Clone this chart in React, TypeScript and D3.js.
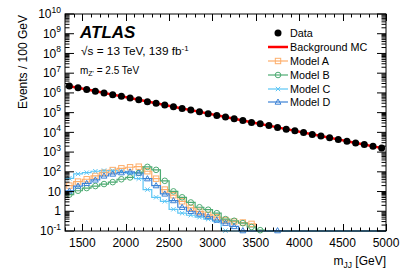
import { useEffect, useRef } from "react";
import * as d3 from "d3";

// bin centres (100 GeV bins, 1300-5000 GeV)
const massBins = [
  1350, 1450, 1550, 1650, 1750, 1850, 1950, 2050, 2150, 2250, 2350, 2450, 2550,
  2650, 2750, 2850, 2950, 3050, 3150, 3250, 3350, 3450, 3550, 3650, 3750, 3850,
  3950, 4050, 4150, 4250, 4350, 4450, 4550, 4650, 4750, 4850, 4950,
];

const dataEvents = [
  2.24e6, 1.82e6, 1.51e6, 1.23e6, 1.0e6, 8.1e5, 6.8e5, 5.5e5, 4.5e5, 3.6e5, 3.0e5,
  2.45e5, 2.0e5, 1.62e5, 1.35e5, 1.1e5, 8.9e4, 7.2e4, 6.0e4, 4.9e4, 4.0e4, 3.2e4,
  2.7e4, 2.2e4, 1.78e4, 1.45e4, 1.2e4, 9.8e3, 7.9e3, 6.5e3, 5.4e3, 4.4e3, 3.5e3,
  2.9e3, 2.4e3, 1.95e3, 1.6e3,
];

const backgroundMC = [
  2.2e6, 1.83e6, 1.5e6, 1.24e6, 1.0e6, 8.2e5, 6.75e5, 5.5e5, 4.5e5, 3.65e5, 3.0e5,
  2.45e5, 2.0e5, 1.63e5, 1.34e5, 1.1e5, 8.9e4, 7.3e4, 6.0e4, 4.9e4, 4.0e4, 3.25e4,
  2.68e4, 2.2e4, 1.79e4, 1.46e4, 1.2e4, 9.7e3, 7.95e3, 6.5e3, 5.35e3, 4.4e3, 3.55e3,
  2.9e3, 2.4e3, 1.95e3, 1.6e3,
];

const modelA = [
  20, 32, 42, 62, 91, 123, 151, 170, 182, 107, 45, 12.6, 6.5, 3.2, 1.5, 0.95, 0.65,
  0.5, 0.36, 0.3, 0.27, 0.23, 0.05, 0, 0, 0, 0, 0, 0, 0, 0, 0, 0, 0, 0, 0, 0,
];
const modelB = [
  7, 11, 15, 19, 24, 30, 42, 52, 88, 178, 126, 35, 10.2, 5.1, 2.8, 1.6, 1.2, 0.8,
  0.4, 0.33, 0.25, 0.16, 0.11, 0, 0, 0, 0, 0, 0, 0, 0, 0, 0, 0, 0, 0, 0,
];
const modelC = [
  47, 78, 91, 107, 115, 115, 107, 89, 45, 12.6, 5.1, 3.2, 1.26, 0.8, 0.63, 0.5, 0.4,
  0.32, 0.105, 0, 0, 0, 0, 0, 0, 0, 0, 0, 0, 0, 0, 0, 0, 0, 0, 0, 0,
];
const modelD = [
  10.7, 19, 26, 39, 62, 78, 91, 100, 87, 45, 20, 7.6, 3.5, 1.6, 1.0, 0.74, 0.54,
  0.36, 0.25, 0.17, 0.105, 0, 0, 0, 0.105, 0, 0, 0, 0, 0, 0, 0, 0, 0, 0, 0, 0,
];

const xTickLabels = [1500, 2000, 2500, 3000, 3500, 4000, 4500, 5000];
const yDecades = [-1, 0, 1, 2, 3, 4, 5, 6, 7, 8, 9, 10];

const models = [
  { name: "Model A", values: modelA, color: "#fdae6b", marker: "square" },
  { name: "Model B", values: modelB, color: "#4dab72", marker: "circle" },
  { name: "Model C", values: modelC, color: "#5cc6f5", marker: "cross" },
  { name: "Model D", values: modelD, color: "#3b82d6", marker: "triangle" },
];

const FONT = "'Liberation Sans', Arial, Helvetica, sans-serif";

export default function App() {
  const ref = useRef<SVGSVGElement>(null);

  useEffect(() => {
    if (!ref.current) return;
    const svg = d3.select(ref.current);
    svg.selectAll("*").remove();

    const left = 65, right = 386, top = 14, bottom = 231;
    const x = d3.scaleLinear().domain([1300, 5000]).range([left, right]);
    const y = d3.scaleLog().domain([0.1, 1e10]).range([bottom, top]);
    const yc = (v: number) => y(Math.max(v, 0.1));

    const g = svg.append("g");

    // signal histograms (step lines)
    models.forEach((m) => {
      const pts: [number, number][] = [];
      m.values.forEach((v, i) => {
        pts.push([massBins[i] - 50, v]);
        pts.push([massBins[i] + 50, v]);
      });
      const line = d3
        .line<[number, number]>()
        .x((d) => x(d[0]))
        .y((d) => yc(d[1]));
      g.append("path")
        .attr("d", line(pts))
        .attr("fill", "none")
        .attr("stroke", m.color)
        .attr("stroke-width", 1.2);
    });

    const drawMarker = (sel: any, kind: string, cx: number, cy: number, color: string) => {
      if (kind === "square") {
        sel.append("rect")
          .attr("x", cx - 2.7).attr("y", cy - 2.7)
          .attr("width", 5.4).attr("height", 5.4)
          .attr("fill", "none").attr("stroke", color).attr("stroke-width", 1);
      } else if (kind === "circle") {
        sel.append("circle")
          .attr("cx", cx).attr("cy", cy).attr("r", 2.8)
          .attr("fill", "none").attr("stroke", color).attr("stroke-width", 1);
      } else if (kind === "cross") {
        sel.append("path")
          .attr("d", `M${cx - 2.2},${cy - 2.2}L${cx + 2.2},${cy + 2.2}M${cx - 2.2},${cy + 2.2}L${cx + 2.2},${cy - 2.2}`)
          .attr("stroke", color).attr("stroke-width", 1);
      } else if (kind === "triangle") {
        sel.append("path")
          .attr("d", `M${cx},${cy - 3}L${cx + 2.9},${cy + 2.2}L${cx - 2.9},${cy + 2.2}Z`)
          .attr("fill", "none").attr("stroke", color).attr("stroke-width", 1);
      }
    };

    models.forEach((m) => {
      m.values.forEach((v, i) => {
        if (v > 0.1) drawMarker(g, m.marker, x(massBins[i]), y(v), m.color);
      });
    });

    // background MC
    const bgLine = d3
      .line<number>()
      .x((_, i) => x(massBins[i]))
      .y((d) => y(d));
    g.append("path")
      .attr("d", bgLine(backgroundMC))
      .attr("fill", "none")
      .attr("stroke", "#ff0000")
      .attr("stroke-width", 2.5);

    // data
    g.selectAll("circle.data")
      .data(dataEvents)
      .enter()
      .append("circle")
      .attr("class", "data")
      .attr("cx", (_, i) => x(massBins[i]))
      .attr("cy", (d) => y(d))
      .attr("r", 3.5)
      .attr("fill", "#000");

    // frame
    svg.append("rect")
      .attr("x", left).attr("y", top)
      .attr("width", right - left).attr("height", bottom - top)
      .attr("fill", "none").attr("stroke", "#000").attr("stroke-width", 1);

    // x ticks (inside, bottom + top)
    const ax = svg.append("g").attr("stroke", "#000").attr("stroke-width", 1);
    d3.range(1300, 5001, 100).forEach((t) => {
      const major = t % 500 === 0;
      const len = major ? 7 : 3.5;
      const px = Math.round(x(t)) + 0.5;
      ax.append("line").attr("x1", px).attr("x2", px).attr("y1", bottom).attr("y2", bottom - len);
      ax.append("line").attr("x1", px).attr("x2", px).attr("y1", top).attr("y2", top + len);
    });
    // y ticks (inside, left + right)
    yDecades.forEach((k) => {
      const base = Math.pow(10, k);
      const py = y(base);
      ax.append("line").attr("x1", left).attr("x2", left + 9).attr("y1", py).attr("y2", py);
      ax.append("line").attr("x1", right).attr("x2", right - 9).attr("y1", py).attr("y2", py);
      if (k < 10) {
        for (let m = 2; m <= 9; m++) {
          const pm = y(m * base);
          ax.append("line").attr("x1", left).attr("x2", left + 4.5).attr("y1", pm).attr("y2", pm);
          ax.append("line").attr("x1", right).attr("x2", right - 4.5).attr("y1", pm).attr("y2", pm);
        }
      }
    });

    const txt = svg.append("g").attr("font-family", FONT).attr("fill", "#000");

    // x tick labels
    xTickLabels.forEach((t) => {
      txt.append("text")
        .attr("x", x(t)).attr("y", 247)
        .attr("text-anchor", "middle")
        .attr("font-size", 12)
        .text(String(t));
    });

    // y tick labels
    yDecades.forEach((k) => {
      const t = txt.append("text")
        .attr("x", 61).attr("y", y(Math.pow(10, k)) + 4.2)
        .attr("text-anchor", "end")
        .attr("font-size", 12);
      if (k === 0) t.text("1");
      else if (k === 1) t.text("10");
      else {
        t.append("tspan").text("10");
        t.append("tspan").attr("dy", -5.5).attr("font-size", 8.5).text(String(k));
      }
    });

    // axis titles
    const xt = txt.append("text")
      .attr("x", right).attr("y", 265)
      .attr("text-anchor", "end")
      .attr("font-size", 12);
    xt.append("tspan").text("m");
    xt.append("tspan").attr("dy", 3).attr("font-size", 8.5).text("JJ");
    xt.append("tspan").attr("dy", -3).text(" [GeV]");

    txt.append("text")
      .attr("transform", `translate(27,${top + 1}) rotate(-90)`)
      .attr("text-anchor", "end")
      .attr("font-size", 12)
      .text("Events / 100 GeV");

    // ATLAS label
    txt.append("text")
      .attr("x", 80).attr("y", 38)
      .attr("font-size", 17)
      .attr("font-weight", "bold")
      .attr("font-style", "italic")
      .text("ATLAS");
    const lumi = txt.append("text").attr("x", 81).attr("y", 55).attr("font-size", 11.8);
    lumi.append("tspan").text("\u221As = 13 TeV, 139 fb");
    lumi.append("tspan").attr("dy", -4.5).attr("font-size", 8).text("-1");
    const mz = txt.append("text").attr("x", 80).attr("y", 74).attr("font-size", 10);
    mz.append("tspan").text("m");
    mz.append("tspan").attr("dy", 2).attr("font-size", 7).text("Z'");
    mz.append("tspan").attr("dy", -2).text(" = 2.5 TeV");

    // legend
    const lg = svg.append("g");
    const rows = [33, 47, 61, 75, 89, 102];
    lg.append("circle").attr("cx", 278).attr("cy", rows[0]).attr("r", 3.5).attr("fill", "#000");
    lg.append("line")
      .attr("x1", 268).attr("x2", 288).attr("y1", rows[1]).attr("y2", rows[1])
      .attr("stroke", "#ff0000").attr("stroke-width", 2.5);
    models.forEach((m, i) => {
      const ry = rows[i + 2];
      lg.append("line")
        .attr("x1", 268).attr("x2", 288).attr("y1", ry).attr("y2", ry)
        .attr("stroke", m.color).attr("stroke-width", 1.2);
      drawMarker(lg, m.marker, 278, ry, m.color);
    });
    const legendNames = ["Data", "Background MC", ...models.map((m) => m.name)];
    legendNames.forEach((n, i) => {
      txt.append("text")
        .attr("x", 290).attr("y", rows[i] + 3.8)
        .attr("font-size", 10.8)
        .text(n);
    });
  }, []);

  return (
    <svg
      ref={ref}
      width={407}
      height={276}
      style={{ position: "absolute", left: 0, top: 0, background: "#fff" }}
    />
  );
}
